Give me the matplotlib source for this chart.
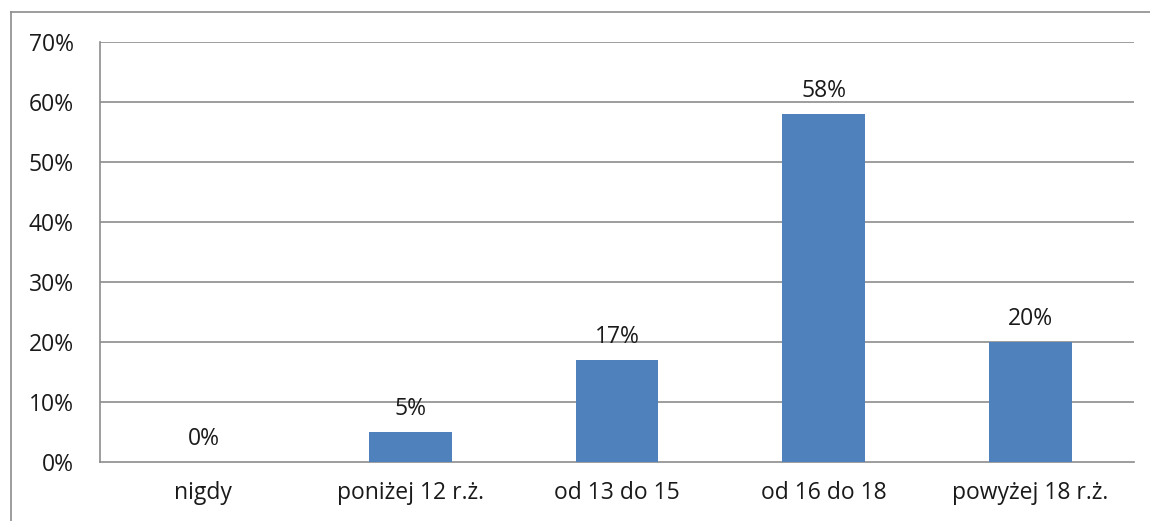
import matplotlib
matplotlib.use("Agg")
import matplotlib.pyplot as plt
from matplotlib.lines import Line2D

categories = ["nigdy", "poniżej 12 r.ż.", "od 13 do 15", "od 16 do 18", "powyżej 18 r.ż."]
values = [0, 5, 17, 58, 20]
yticks = [0, 10, 20, 30, 40, 50, 60, 70]
ytick_labels = [f"{v}%" for v in yticks]

plt.rcParams['font.family'] = ['Open Sans', 'DejaVu Sans']

W, H = 1150, 521
FS = 16.5
fig = plt.figure(figsize=(W / 100, H / 100), dpi=100)
ax = fig.add_axes([100 / W, (H - 462) / H, (1134 - 100) / W, (462 - 42) / H])

x = list(range(len(categories)))
bars = ax.bar(x, values, width=0.4, color="#4F81BD", zorder=3)

ax.set_xlim(-0.5, len(categories) - 0.5)
ax.set_ylim(0, 70)
ax.set_yticks(yticks)
ax.set_yticklabels(ytick_labels, fontsize=FS, color="#1a1a1a")
ax.set_xticks(x)
ax.set_xticklabels(categories, fontsize=FS, color="#1a1a1a")
ax.tick_params(axis='y', length=0, pad=19)
ax.tick_params(axis='x', length=0, pad=14)

for v in yticks[1:]:
    ax.axhline(v, color="#8c8c8c", linewidth=1.2, zorder=1)

for s in ['top', 'right']:
    ax.spines[s].set_visible(False)
for s in ['left', 'bottom']:
    ax.spines[s].set_color("#8c8c8c")
    ax.spines[s].set_linewidth(1.2)

for xi, v in zip(x, values):
    ax.annotate(f"{v}%", (xi, v), xytext=(0, 8), textcoords="offset points",
                ha="center", va="bottom", fontsize=FS, color="#1a1a1a")

# outer chart border (left and top visible)
fig.add_artist(Line2D([11 / W, 11 / W], [0, (H - 12) / H], transform=fig.transFigure,
                      color="#8c8c8c", linewidth=1.2))
fig.add_artist(Line2D([11 / W, 1], [(H - 12) / H, (H - 12) / H], transform=fig.transFigure,
                      color="#8c8c8c", linewidth=1.2))

fig.savefig("out.png", dpi=100)
